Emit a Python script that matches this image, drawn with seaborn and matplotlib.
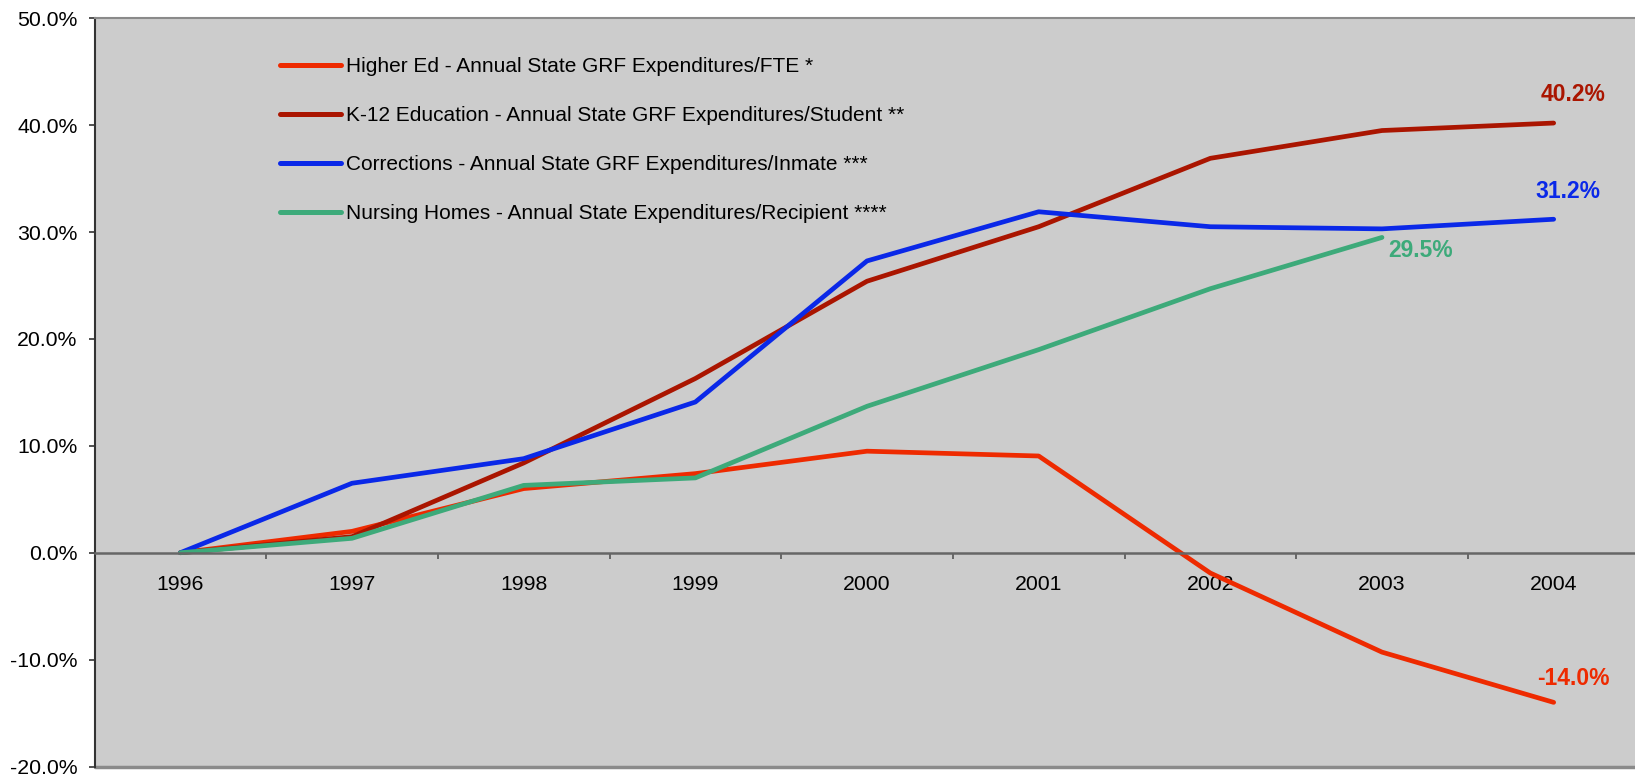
import numpy as np
import pandas as pd
import matplotlib
matplotlib.use("Agg")
import matplotlib.pyplot as plt
import seaborn as sns
from matplotlib.ticker import FuncFormatter, MultipleLocator, FixedLocator

years = [1996, 1997, 1998, 1999, 2000, 2001, 2002, 2003, 2004]
higher_ed = [0.0, 2.0, 6.0, 7.4, 9.5, 9.05, -1.9, -9.3, -14.0]
k12 = [0.0, 1.5, 8.4, 16.3, 25.4, 30.5, 36.9, 39.5, 40.2]
corrections = [0.0, 6.5, 8.8, 14.1, 27.3, 31.9, 30.5, 30.3, 31.2]
nursing = [0.0, 1.35, 6.3, 7.0, 13.7, 19.0, 24.7, 29.5, np.nan]

series_names = [
    "Higher Ed - Annual State GRF Expenditures/FTE *",
    "K-12 Education - Annual State GRF Expenditures/Student **",
    "Corrections - Annual State GRF Expenditures/Inmate ***",
    "Nursing Homes - Annual State Expenditures/Recipient ****",
]
series_values = [higher_ed, k12, corrections, nursing]
colors = ["#ee2a00", "#aa1500", "#0a28e8", "#3daa7a"]
end_labels = ["-14.0%", "40.2%", "31.2%", "29.5%"]

rows = []
for name, vals in zip(series_names, series_values):
    for y, v in zip(years, vals):
        if not np.isnan(v):
            rows.append({"Year": y, "Change": v, "Series": name})
df = pd.DataFrame(rows)

sns.set_style("white", {"axes.facecolor": "#cccccc", "text.color": "black",
                        "xtick.color": "black", "ytick.color": "black"})
plt.rcParams["font.family"] = ["Liberation Sans", "DejaVu Sans"]

fig = plt.figure(figsize=(16.35, 7.78), dpi=100)
ax = fig.add_axes([94.5 / 1635, 11.5 / 778, 1545 / 1635, 748.2 / 778])
ax.set_facecolor("#cccccc")

sns.lineplot(data=df, x="Year", y="Change", hue="Series", hue_order=series_names,
             palette=colors, linewidth=3.4, ax=ax, legend=True)

ax.set_xlim(1995.5, 2004.5)
ax.set_ylim(-20, 50)
ax.set_xlabel("")
ax.set_ylabel("")

ax.yaxis.set_major_locator(MultipleLocator(10))
ax.yaxis.set_major_formatter(FuncFormatter(lambda v, p: f"{v:.1f}%"))
ax.tick_params(axis="y", which="major", direction="out", length=4.3, width=1.2,
               color="#333333", labelcolor="black", pad=7.9, labelsize=15.3, left=True)

# x axis crosses at zero
ax.spines["bottom"].set_position(("data", 0))
ax.spines["bottom"].set_color("#666666")
ax.spines["bottom"].set_linewidth(1.8)
ax.xaxis.set_major_locator(FixedLocator(years))
ax.xaxis.set_major_formatter(FuncFormatter(lambda v, p: f"{int(round(v))}"))
ax.xaxis.set_minor_locator(FixedLocator([y + 0.5 for y in years[:-1]]))
ax.tick_params(axis="x", which="major", length=0, pad=16, labelsize=15.3,
               labelcolor="black", bottom=True)
ax.tick_params(axis="x", which="minor", direction="out", length=4.3, width=1.2,
               color="#555555", bottom=True)

ax.spines["left"].set_color("#333333")
ax.spines["left"].set_linewidth(1.5)
ax.spines["top"].set_color("#8a8a8a")
ax.spines["top"].set_linewidth(1.5)
ax.spines["right"].set_visible(False)
ax.axhline(-20, color="#8a8a8a", linewidth=2.5, clip_on=False)

# end-of-series labels
offsets = [(14.2, 17.3, "center"), (14.2, 20.4, "center"), (10.2, 19.7, "center"), (4.3, -9.5, "left")]
for name, vals, col, lab, (dx, dy, ha) in zip(series_names, series_values, colors, end_labels, offsets):
    idx = max(i for i, v in enumerate(vals) if not np.isnan(v))
    ax.annotate(lab, xy=(years[idx], vals[idx]), xytext=(dx, dy), textcoords="offset points",
                ha=ha, va="center", color=col, fontsize=16.5, fontweight="bold")

handles, labels = ax.get_legend_handles_labels()
for h in handles:
    h.set_linewidth(3.6)
leg = ax.legend(handles, labels, loc="upper left",
                bbox_to_anchor=(280 / 1635, (778 - 57) / 778), bbox_transform=fig.transFigure,
                frameon=False, fontsize=15, handlelength=2.92, handletextpad=0.24,
                labelspacing=1.44, borderpad=0, borderaxespad=0)
for t in leg.get_texts():
    t.set_color("black")

fig.savefig("out.png", dpi=100)
